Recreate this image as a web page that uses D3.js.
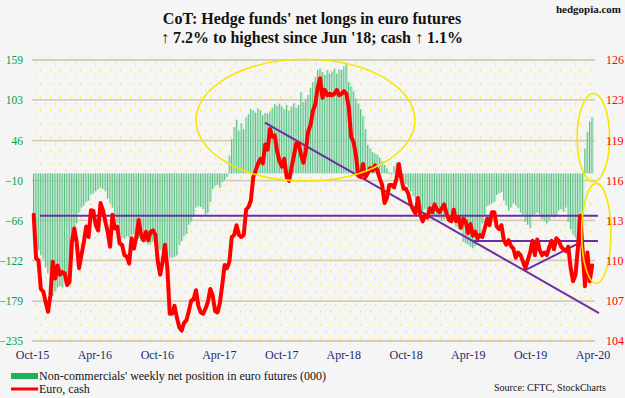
<!DOCTYPE html>
<html><head><meta charset="utf-8">
<script src="https://cdn.jsdelivr.net/npm/d3@7/dist/d3.min.js"></script>
<style>
body{margin:0;background:#f5f5f5}
svg{display:block}
text{font-family:"Liberation Serif","Times New Roman",serif}
</style>
</head><body>
<svg id="chart" width="625" height="398"></svg>
<script>
// ---------- data ----------
const firstWeek = "2015-10-06";   // weekly observations (CFTC Tuesdays)

// Non-commercials' weekly net position in euro futures (000 contracts), left axis
const netPositions = [
 -88,-103,-108,-115,-120,-132,-140,-155,-172,-165,
 -160,-158,-160,-152,-150,-145,-120,-95,-70,-55,
 -48,-45,-40,-38,-30,-28,-25,-22,-20,-22,
 -25,-35,-42,-48,-60,-70,-85,-90,-92,-88,
 -90,-87,-85,-90,-92,-95,-93,-97,-100,-98,
 -96,-100,-105,-108,-110,-112,-115,-118,
 -118,-117,-115,-100,-95,-88,-85,-72,-68,-60,
 -48,-46,-47,-50,-58,-55,-40,-22,-18,-16,
 -20,-12,-9,-5,25,48,65,75,60,70,
 62,78,83,90,88,85,91,88,82,85,
 84,87,92,97,95,98,94,90,96,88,
 94,98,92,96,114,100,104,110,
 120,128,135,145,147,142,138,145,140,143,
 147,140,146,145,150,153,128,122,115,105,
 98,90,80,62,40,35,30,28,26,22,
 17,12,7,2,-2,10,15,13,-3,-10,
 -15,-20,-25,-32,-38,-45,-48,-52,-50,-55,
 -53,-58,-60,-62,-63,-66,-64,-60,-56,
 -58,-60,-75,-78,-80,-96,-98,-100,-103,-105,
 -102,-96,-92,-70,-60,-46,-44,-42,-40,-30,
 -28,-26,-38,-45,-52,-48,-42,-45,-49,-55,
 -58,-68,-72,-77,-60,-57,-55,-58,-64,-67,
 -70,-66,-58,-62,-60,-52,-50,-54,-48,-68,
 -78,-86,-90,-93,-88,-80,35,58,73,79
];

// Euro, cash (x100), right axis
const euroCash = [
 113.7,110.35,110.2,108.0,107.8,107.0,106.25,107.5,110.1,108.8,
 109.8,109.1,109.3,109.2,108.3,108.55,111.6,112.65,111.6,109.6,
 110.6,111.6,112.8,112.0,114.05,114.0,112.9,112.5,114.6,114.05,
 113.2,112.4,111.25,113.7,112.65,112.8,111.5,111.4,110.6,110.5,
 109.95,111.9,111.1,112.0,113.3,112.15,111.75,112.4,111.75,112.4,
 112.5,112.15,110.1,109.1,110.1,111.4,109.6,106.1,
 106.1,106.7,105.8,105.05,104.8,105.4,105.6,106.3,107.1,107.2,
 107.9,106.7,106.2,106.1,106.5,107.0,108.0,107.5,106.3,106.2,
 106.9,108.3,109.85,109.6,110.1,112.0,112.15,112.9,112.15,112.0,
 112.15,114.1,114.3,114.8,116.6,117.1,117.65,118.0,117.65,119.1,
 118.7,120.3,119.7,119.8,118.6,117.8,117.4,118.0,116.6,116.3,
 117.3,118.2,119.2,119.2,118.3,117.7,118.6,120.1,
 120.6,121.7,122.2,123.5,124.2,122.7,123.3,122.9,123.0,122.9,
 123.0,123.3,122.9,123.0,123.2,123.0,122.0,119.7,119.3,118.3,
 116.7,116.6,117.6,116.6,116.9,117.3,117.1,117.5,117.1,116.5,
 116.0,114.6,115.0,116.0,116.0,115.8,116.5,117.6,116.5,115.7,
 115.7,115.3,114.5,114.1,113.8,115.0,113.7,113.2,113.7,113.5,
 114.2,113.9,114.5,114.1,113.9,114.2,114.5,113.8,113.3,
 113.2,114.1,113.2,113.5,112.7,113.4,113.2,112.3,113.0,112.1,
 112.4,111.9,112.15,112.0,112.65,113.4,112.9,113.9,113.9,112.8,
 112.6,112.9,111.75,111.4,111.75,111.3,111.1,110.4,110.8,110.6,
 110.1,109.6,110.2,110.8,111.7,110.6,111.8,111.0,110.6,110.8,
 110.6,111.2,111.7,111.05,111.9,111.7,111.25,111.05,110.9,111.25,
 109.6,108.6,109.07,111.1,113.6,111.0,108.2,110.8,108.6,109.8
];

const leftTicks  = [-235,-179,-122,-66,-10,46,103,159];
const rightTicks = [104,107,110,113,116,119,123,126];
const xTickDates  = ["2015-10-01","2016-04-01","2016-10-01","2017-04-01","2017-10-01","2018-04-01","2018-10-01","2019-04-01","2019-10-01","2020-04-01"];
const xTickLabels = ["Oct-15","Apr-16","Oct-16","Apr-17","Oct-17","Apr-18","Oct-18","Apr-19","Oct-19","Apr-20"];

// analyst annotations (dates, euro values on right axis)
const trendFrom = [["2015-10-24",113.62],["2017-08-14",120.79],["2019-04-17",111.68],["2019-09-17",109.45]];
const trendTo   = [["2020-04-17",113.62],["2020-04-20",106.15],["2020-04-17",111.68],["2020-02-29",111.62]];
// ellipses: date range and left-axis value range
const ellipseDates  = [["2017-01-24","2018-10-28"],["2020-02-16","2020-05-21"],["2020-02-29","2020-05-25"]];
const ellipseValues = [[160,-10.8],[112,-11.8],[-14,-154]];

const titleLines = ["CoT: Hedge funds' net longs in euro futures","\u2191 7.2% to highest since Jun '18; cash \u2191 1.1%"];
const legendLabels = ["Non-commercials' weekly net position in euro futures (000)","Euro, cash"];

// ---------- chart ----------
const svg = d3.select("#chart");
const W = 625, H = 398;
const plot = {left:32, right:595, top:60, bottom:341};
const parse = d3.utcParse("%Y-%m-%d");
const t0 = parse(firstWeek);
const dates = netPositions.map((_, i) => d3.utcDay.offset(t0, 7 * i));

const x = d3.scaleUtc().domain([parse("2015-10-01"), parse("2020-04-01")]).range([32, 592.5]);
const yL = d3.scaleLinear().domain([-235, 159]).range([plot.bottom, plot.top]);
const yR = d3.scaleLinear().domain([104, 125.6]).range([plot.bottom, plot.top]);

const defs = svg.append("defs");
const pat = defs.append("pattern").attr("id","dots").attr("patternUnits","userSpaceOnUse")
  .attr("width",10).attr("height",13.4).attr("x",plot.left).attr("y",plot.top);
pat.append("rect").attr("x",3).attr("y",3).attr("width",1.3).attr("height",1.3).attr("fill","#ffe600");
pat.append("rect").attr("x",8).attr("y",9.7).attr("width",1.3).attr("height",1.3).attr("fill","#ffe600");

svg.append("rect").attr("width",W).attr("height",H).attr("fill","#f5f5f5");
svg.append("rect").attr("x",plot.left).attr("y",plot.top).attr("width",plot.right-plot.left)
  .attr("height",plot.bottom-plot.top).attr("fill","url(#dots)");

// gridlines
svg.append("g").selectAll("line").data(leftTicks).join("line")
  .attr("x1",plot.left).attr("x2",plot.right)
  .attr("y1",d=>yL(d)).attr("y2",d=>yL(d))
  .attr("stroke","#d6cdb6").attr("stroke-width",1.8);

// bars
const bw = x(dates[1]) - x(dates[0]);
const bars = svg.append("g");
bars.selectAll("rect").data(netPositions).join("rect")
  .attr("x",(d,i)=>x(dates[i]) + 0.3)
  .attr("width",bw - 1.0)
  .attr("y",d=>Math.min(yL(0), yL(d)))
  .attr("height",d=>Math.abs(yL(d)-yL(0)))
  .attr("fill","#a9e4c6").attr("fill-opacity",0.75);
bars.selectAll("line").data(netPositions).join("line")
  .attr("x1",(d,i)=>x(dates[i]) - 0.2).attr("x2",(d,i)=>x(dates[i]) - 0.2)
  .attr("y1",yL(0)).attr("y2",d=>yL(d))
  .attr("stroke","#44b874").attr("stroke-width",0.9);

// trend lines
svg.append("g").selectAll("line").data(trendFrom).join("line")
  .attr("x1",d=>x(parse(d[0]))).attr("y1",d=>yR(d[1]))
  .attr("x2",(d,i)=>x(parse(trendTo[i][0]))).attr("y2",(d,i)=>yR(trendTo[i][1]))
  .attr("stroke","#6b2fa3").attr("stroke-width",2);

// euro line
svg.append("path").datum(euroCash)
  .attr("d", d3.line().x((d,i)=>x(dates[i])).y(d=>yR(d)))
  .attr("fill","none").attr("stroke","#ff0000").attr("stroke-width",4)
  .attr("stroke-linejoin","round").attr("stroke-linecap","round");

// ellipses
svg.append("g").selectAll("ellipse").data(ellipseDates).join("ellipse")
  .attr("cx",d=>(x(parse(d[0]))+x(parse(d[1])))/2)
  .attr("rx",d=>(x(parse(d[1]))-x(parse(d[0])))/2)
  .attr("cy",(d,i)=>(yL(ellipseValues[i][0])+yL(ellipseValues[i][1]))/2)
  .attr("ry",(d,i)=>Math.abs(yL(ellipseValues[i][1])-yL(ellipseValues[i][0]))/2)
  .attr("fill","none").attr("stroke","#f7e600").attr("stroke-width",1.6);

// axes
const axL = svg.append("g").attr("transform",`translate(${plot.left},0)`)
  .call(d3.axisLeft(yL).tickValues(leftTicks).tickFormat(d3.format("d")).tickSize(0).tickPadding(9));
axL.select(".domain").remove();
axL.selectAll("text").attr("fill","#009e4a").attr("font-size",11.5).attr("font-family","Liberation Serif, serif");

const axR = svg.append("g");
axR.selectAll("text").data(rightTicks).join("text")
  .attr("x",606).attr("y",(d,i)=>yL(leftTicks[i])).attr("dy","0.35em")
  .attr("fill","#ff0000").attr("font-size",12).text(d=>d);

const axX = svg.append("g").attr("transform",`translate(0,${plot.bottom})`)
  .call(d3.axisBottom(x).tickValues(xTickDates.map(parse)).tickFormat((d,i)=>xTickLabels[i]).tickSize(0).tickPadding(9));
axX.select(".domain").remove();
axX.selectAll("text").attr("fill","#1b2a6b").attr("font-size",12).attr("font-family","Liberation Serif, serif");

// title
svg.append("g").selectAll("text").data(titleLines).join("text")
  .attr("x",312).attr("y",(d,i)=>24+i*19).attr("text-anchor","middle")
  .attr("font-size",16).attr("font-weight","bold").attr("fill","#111").text(d=>d);
svg.append("text").attr("x",621).attr("y",13).attr("text-anchor","end")
  .attr("font-size",11).attr("font-weight","bold").attr("fill","#111").text("hedgopia.com");

// legend
svg.append("rect").attr("x",11).attr("y",373).attr("width",27).attr("height",6).attr("fill","#1fb15a");
svg.append("rect").attr("x",11).attr("y",387.5).attr("width",27).attr("height",3).attr("fill","#ff0000");
svg.append("g").selectAll("text").data(legendLabels).join("text")
  .attr("x",39).attr("y",(d,i)=>380+i*13).attr("font-size",12).attr("fill","#111").text(d=>d);
svg.append("text").attr("x",606).attr("y",391).attr("text-anchor","end")
  .attr("font-size",10).attr("fill","#111").text("Source: CFTC, StockCharts");
</script>
</body></html>
